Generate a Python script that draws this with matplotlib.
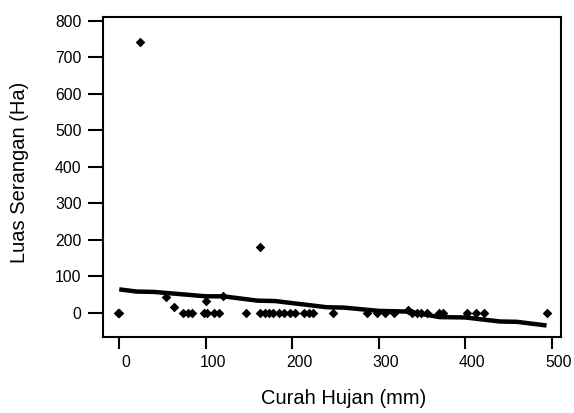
import matplotlib
matplotlib.use("Agg")
import matplotlib.pyplot as plt
import matplotlib.transforms as mtransforms

plt.rcParams['font.family'] = ['Liberation Sans', 'DejaVu Sans']

# Scatter data: Curah Hujan (mm) vs Luas Serangan (Ha)
rain = [-2, 0, 24, 54, 63.6, 74, 79, 84, 98, 102, 109, 115, 100.6, 119.5, 146,
        163, 163, 168, 173, 178, 185, 191, 197, 203.5, 214, 219, 223.5, 246.6,
        286.5, 297.8, 307, 318, 333.5, 339, 344, 349, 355.6, 369.5, 374.7,
        402, 412.7, 422, 494]
area = [0, 0, 742, 43, 16, 0, 0, 0, 0, 0, 0, 0, 31, 47, 0,
        181, 0, 0, 0, 0, 0, 0, 0, 0, 0, 0, 0, 0,
        0, 0, 0, 0, 8, 0, 0, 0, 0, 0, 0,
        0, 0, 0, 0]

# Smoothed fit line
fit_x = [0, 20, 40, 100, 120, 160, 180, 240, 260, 300, 335, 370, 400, 440, 460, 494]
fit_y = [64, 58, 57, 45, 45, 33, 32, 15, 14, 5, 3, -12, -13, -24, -25, -35]

xticks = [0, 100, 200, 300, 400, 500]
yticks = [0, 100, 200, 300, 400, 500, 600, 700, 800]

fig = plt.figure(figsize=(5.74, 4.13), dpi=100)
ax = fig.add_axes([103/574, 1 - 336.7/413, (561 - 103)/574, (336.7 - 16.7)/413])

ax.plot(fit_x, fit_y, color='black', lw=3.2, solid_capstyle='butt', zorder=2)
ax.scatter(rain, area, marker='D', s=24, color='black', linewidths=0, zorder=3)

ax.set_xlim(-18.8, 510.7)
ax.set_ylim(-65.7, 811)
ax.set_xticks(xticks)
ax.set_yticks(yticks)
ax.set_xticklabels([str(t) for t in xticks])
ax.set_yticklabels([str(t) for t in yticks])

for s in ax.spines.values():
    s.set_linewidth(1.5)

ax.tick_params(axis='x', direction='out', length=8.4, width=1.5, pad=5, labelsize=11.3)
ax.tick_params(axis='y', direction='out', length=11, width=1.5, pad=4.5, labelsize=11.3)

offset = mtransforms.ScaledTranslation(7/100, 0, fig.dpi_scale_trans)
for lab in ax.get_xticklabels():
    lab.set_transform(lab.get_transform() + offset)

fig.text(343.5/574, 1 - 398/413, 'Curah Hujan (mm)', ha='center', va='center', fontsize=14.5)
fig.text(20/574, 1 - 172.5/413, 'Luas Serangan (Ha)', ha='center', va='center',
         rotation=90, fontsize=14.5)

fig.savefig('out.png', dpi=100)
